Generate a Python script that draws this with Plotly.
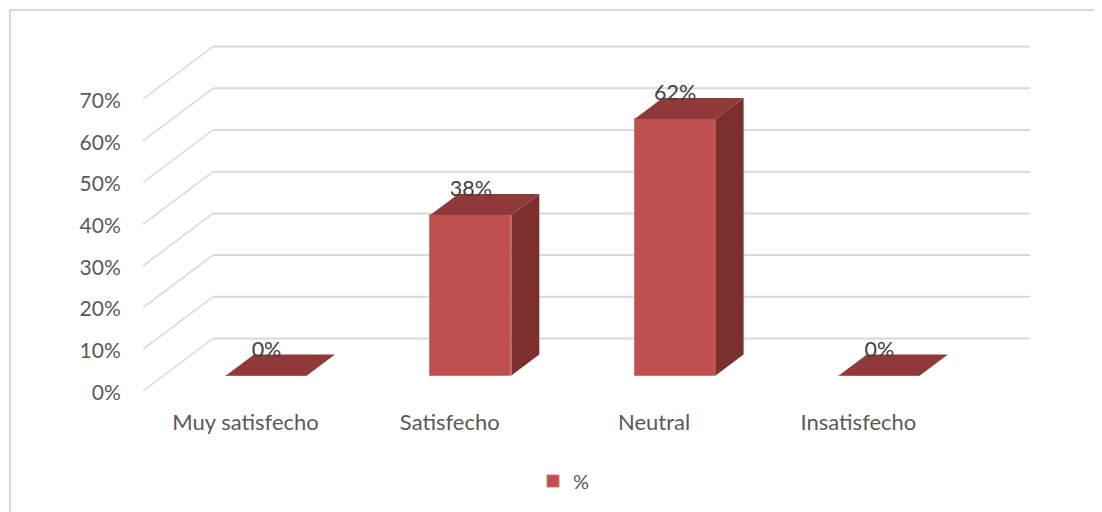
import plotly.graph_objects as go

# --- data ---
categories = ["Muy satisfecho", "Satisfecho", "Neutral", "Insatisfecho"]
values = [0, 38.46, 61.54, 0]
series_name = "%"
y_ticks = [0, 10, 20, 30, 40, 50, 60, 70]

# --- geometry / style ---
W, H = 1102, 512
PAGE_OFFSET = 8    # default body margin of the page
PW, PH = W - PAGE_OFFSET, H - PAGE_OFFSET
PX_PER_CAT = 204.3
PX_PER_PCT = 4.17
X0_PX = 266.5      # centre of first bar
Y0_PX = 391        # 0% on the front edge of the wall


def xv(px):
    return (px - X0_PX) / PX_PER_CAT


def yv(py):
    return (Y0_PX - py) / PX_PER_PCT


def xp(px):
    return (px - PAGE_OFFSET) / PW


def yp(py):
    return 1 - (py - PAGE_OFFSET) / PH


BAR_W = 81 / PX_PER_CAT
BAR_BASE = yv(375.5)
BAR_DX = 28 / PX_PER_CAT
BAR_DY = 21 / PX_PER_PCT
LABEL_DY = 24 / PX_PER_PCT
WALL_X0 = xv(143)
WALL_X1 = xv(213)
WALL_X2 = xv(1030)
WALL_DY = 52.5 / PX_PER_PCT
X_LABEL_SHIFT = 21 / PX_PER_CAT
Y_LABEL_SHIFT = 1.5 / PX_PER_PCT

FRONT = "#c0504d"
TOP = "#8f3a38"
SIDE = "#7b302e"
GRID = "#d9d9d9"
TEXT = "#595959"
FONT = "Lato"

fig = go.Figure()

# bars (front faces)
fig.add_trace(go.Bar(
    x=list(range(len(categories))), y=values, base=[BAR_BASE] * len(values),
    width=BAR_W, name=series_name, showlegend=True,
    marker=dict(color=FRONT, line=dict(color="#d07a77", width=1)),
    hoverinfo="skip",
))

# top and side faces
top_x, top_y = [], []
side_x, side_y = [], []
for i, v in enumerate(values):
    l, r = i - BAR_W / 2, i + BAR_W / 2
    t = BAR_BASE + v
    top_x += [l, r, r + BAR_DX, l + BAR_DX, l, None]
    top_y += [t, t, t + BAR_DY, t + BAR_DY, t, None]
    if v > 0:
        side_x += [r, r + BAR_DX, r + BAR_DX, r, r, None]
        side_y += [BAR_BASE, BAR_BASE + BAR_DY, t + BAR_DY, t, BAR_BASE, None]

fig.add_trace(go.Scatter(x=side_x, y=side_y, mode="lines", fill="toself",
                         fillcolor=SIDE, line=dict(width=0, color=SIDE),
                         showlegend=False, hoverinfo="skip"))
fig.add_trace(go.Scatter(x=top_x, y=top_y, mode="lines", fill="toself",
                         fillcolor=TOP, line=dict(width=0, color=TOP),
                         showlegend=False, hoverinfo="skip"))

# data labels
fig.add_trace(go.Scatter(
    x=list(range(len(categories))),
    y=[BAR_BASE + v + LABEL_DY for v in values],
    mode="text", text=[f"{round(v)}%" for v in values],
    textposition="middle center",
    textfont=dict(family=FONT, size=21.5, color="#404040"),
    showlegend=False, hoverinfo="skip",
))

# wall gridlines (below the bars)
shapes = []
for t in y_ticks:
    shapes.append(dict(type="line", layer="below", xref="x", yref="y",
                       x0=WALL_X0, y0=t, x1=WALL_X1, y1=t + WALL_DY,
                       line=dict(color=GRID, width=1.5)))
    shapes.append(dict(type="line", layer="below", xref="x", yref="y",
                       x0=WALL_X1, y0=t + WALL_DY, x1=WALL_X2, y1=t + WALL_DY,
                       line=dict(color=GRID, width=2)))
# chart frame: only top and left edges show
shapes.append(dict(type="line", layer="below", xref="paper", yref="paper",
                   x0=xp(10), x1=xp(10), y0=0, y1=yp(10),
                   line=dict(color=GRID, width=2)))
shapes.append(dict(type="line", layer="below", xref="paper", yref="paper",
                   x0=xp(10), x1=1, y0=yp(10), y1=yp(10),
                   line=dict(color=GRID, width=2)))

fig.update_layout(
    width=PW, height=PH, margin=dict(l=0, r=0, t=0, b=0),
    paper_bgcolor="white", plot_bgcolor="white",
    font=dict(family=FONT, size=20, color=TEXT),
    shapes=shapes,
    xaxis=dict(
        range=[xv(PAGE_OFFSET), xv(W)], showgrid=False, zeroline=False, showline=False,
        tickmode="array",
        tickvals=[i - X_LABEL_SHIFT for i in range(len(categories))],
        ticktext=categories,
        ticks="outside", ticklen=12, tickcolor="rgba(0,0,0,0)",
        tickfont=dict(family=FONT, size=22, color=TEXT),
        anchor="free", position=yp(Y0_PX),
    ),
    yaxis=dict(
        range=[yv(H), yv(PAGE_OFFSET)], showgrid=False, zeroline=False, showline=False,
        tickmode="array", tickvals=[t - Y_LABEL_SHIFT for t in y_ticks],
        ticktext=[f"{t}%" for t in y_ticks],
        ticks="outside", ticklen=18, tickcolor="rgba(0,0,0,0)",
        tickfont=dict(family=FONT, size=21, color=TEXT),
        anchor="free", position=xp(143),
    ),
    legend=dict(x=xp(540), y=yp(481), xanchor="left", yanchor="middle",
                orientation="h", indentation=-7,
                font=dict(family=FONT, size=20, color=TEXT),
                bgcolor="rgba(0,0,0,0)"),
    bargap=0,
)

fig.write_html("out.html")
